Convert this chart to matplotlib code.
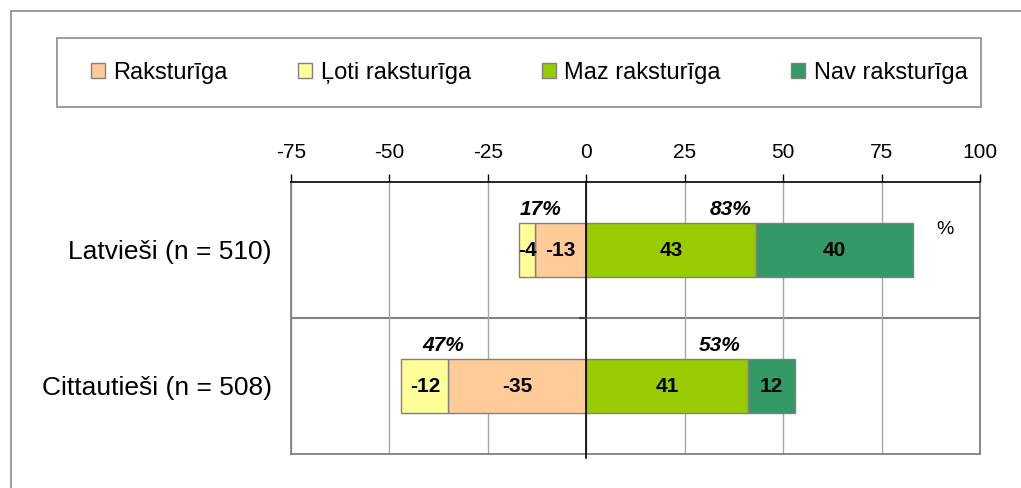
import matplotlib
matplotlib.use("Agg")
import matplotlib.pyplot as plt
from matplotlib.patches import Rectangle
from matplotlib.lines import Line2D

plt.rcParams['font.family'] = ['Liberation Sans', 'DejaVu Sans']

# data
groups = ['Latvieši (n = 510)', 'Cittautieši (n = 508)']
loti = [-4, -12]          # Ļoti raksturīga
rakst = [-13, -35]        # Raksturīga
maz = [43, 41]            # Maz raksturīga
nav = [40, 12]            # Nav raksturīga
neg_total = ['17%', '47%']
pos_total = ['83%', '53%']
xticks = [-75, -50, -25, 0, 25, 50, 75, 100]

col_rakst = '#FFCC99'
col_loti = '#FFFF99'
col_maz = '#99CC00'
col_nav = '#339966'
edge = '#808080'

W, H = 1021, 488
fig = plt.figure(figsize=(W / 100, H / 100), dpi=100)

# outer chart border (only top and left visible)
fig.add_artist(Line2D([11 / W, 1.01], [1 - 11 / H, 1 - 11 / H], color='#8c8c8c', lw=1.2))
fig.add_artist(Line2D([11 / W, 11 / W], [1 - 11 / H, -0.01], color='#8c8c8c', lw=1.2))

ax = fig.add_axes([291 / W, 1 - 454 / H, (980 - 291) / W, (454 - 182) / H])

y = list(range(len(groups)))
h = 0.4
b1 = ax.barh(y, rakst, height=h, color=col_rakst, edgecolor=edge, lw=1, label='Raksturīga', zorder=3)
b2 = ax.barh(y, loti, left=rakst, height=h, color=col_loti, edgecolor=edge, lw=1, label='Ļoti raksturīga', zorder=3)
b3 = ax.barh(y, maz, height=h, color=col_maz, edgecolor=edge, lw=1, label='Maz raksturīga', zorder=3)
b4 = ax.barh(y, nav, left=maz, height=h, color=col_nav, edgecolor=edge, lw=1, label='Nav raksturīga', zorder=3)

# value labels centred in each segment
for i in y:
    segs = [(rakst[i] / 2, rakst[i]),
            (rakst[i] + loti[i] / 2, loti[i]),
            (maz[i] / 2, maz[i]),
            (maz[i] + nav[i] / 2, nav[i])]
    for xc, v in segs:
        ax.text(xc, i, str(v), ha='center', va='center', fontsize=15,
                fontweight='bold', zorder=5)

# totals above bars
neg_x = [-11.5, -36.3]
pos_x = [36.7, 34.0]
for i in y:
    ax.text(neg_x[i], i - 0.3, neg_total[i], ha='center', va='center', fontsize=15,
            fontweight='bold', fontstyle='italic', zorder=5)
    ax.text(pos_x[i], i - 0.3, pos_total[i], ha='center', va='center', fontsize=15,
            fontweight='bold', fontstyle='italic', zorder=5)

ax.text(91, -0.15, '%', ha='center', va='center', fontsize=14)

ax.set_xlim(-75, 100)
ax.set_ylim(1.5, -0.5)
ax.xaxis.tick_top()
ax.set_xticks(xticks)
ax.set_xticklabels([str(t) for t in xticks], fontsize=15)
ax.tick_params(axis='x', direction='out', length=6, width=1, color='black', pad=8.5)
ax.set_yticks(y)
ax.set_yticklabels(groups, fontsize=19)
ax.tick_params(axis='y', length=0, pad=14)

ax.grid(axis='x', color='#a6a6a6', lw=1, zorder=0)
ax.axhline(0.5, color='#808080', lw=1.5, zorder=1)
ax.plot([0, 0], [-0.5, 1.53], color='black', lw=1.2, zorder=4, clip_on=False)
ax.plot([-1.5, 0], [0.5, 0.5], color='#404040', lw=1.5, zorder=4)

for s in ['left', 'right', 'bottom']:
    ax.spines[s].set_color('#808080')
    ax.spines[s].set_linewidth(1.3)
ax.spines['top'].set_color('black')
ax.spines['top'].set_linewidth(1.2)

# legend with its own rectangular frame
fig.add_artist(Rectangle((57 / W, 1 - 107 / H), (981 - 57) / W, (107 - 38) / H,
                         transform=fig.transFigure, fill=False, ec='#8c8c8c', lw=1.2))
fig.legend(handles=[b1, b2, b3, b4], loc='center', bbox_to_anchor=(529 / W, 1 - 73 / H),
           ncol=4, frameon=False, fontsize=17, handlelength=0.6, handleheight=0.6,
           handletextpad=0.35, columnspacing=3.0)

fig.savefig('out.png', dpi=100)
